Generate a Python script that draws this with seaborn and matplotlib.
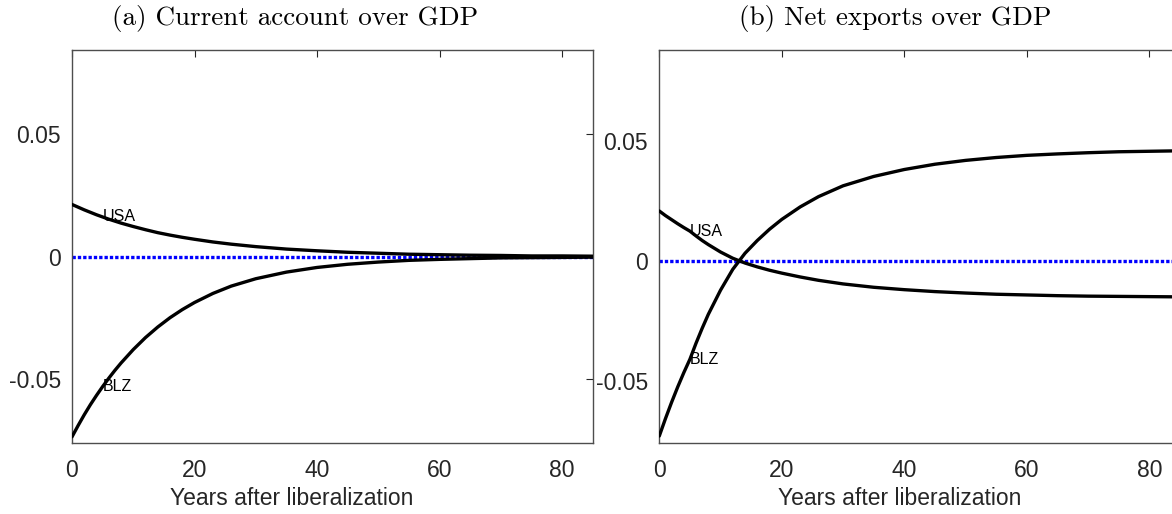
import matplotlib
matplotlib.use("Agg")
import matplotlib.pyplot as plt
import numpy as np
import pandas as pd
import seaborn as sns

# Years after capital-account liberalization
years = [0, 1, 2, 3, 4, 5, 6, 7, 8, 10, 12, 14, 16, 18, 20, 23, 26, 30,
         35, 40, 45, 50, 55, 60, 65, 70, 75, 80, 85]

# (a) Current account over GDP
ca_usa = [0.0213, 0.0202, 0.0191, 0.0181, 0.0171, 0.0162, 0.0153, 0.0145,
          0.0137, 0.0123, 0.0110, 0.0098, 0.0088, 0.0079, 0.0071, 0.0060,
          0.0051, 0.0041, 0.0031, 0.0024, 0.0018, 0.0014, 0.0010, 0.0008,
          0.0006, 0.0005, 0.0003, 0.0003, 0.0002]
ca_blz = [-0.0735, -0.0689, -0.0645, -0.0604, -0.0566, -0.0530, -0.0496,
          -0.0464, -0.0434, -0.0379, -0.0330, -0.0287, -0.0249, -0.0216,
          -0.0187, -0.0150, -0.0120, -0.0090, -0.0063, -0.0044, -0.0031,
          -0.0022, -0.0015, -0.0011, -0.0008, -0.0005, -0.0004, -0.0003,
          -0.0002]

# (b) Net exports over GDP
nx_usa = [0.0208, 0.0189, 0.0172, 0.0155, 0.0139, 0.0124, 0.0104, 0.0085,
          0.0068, 0.0037, 0.0011, -0.0009, -0.0025, -0.0039, -0.0051,
          -0.0067, -0.0081, -0.0096, -0.0110, -0.0120, -0.0128, -0.0134,
          -0.0139, -0.0142, -0.0145, -0.0147, -0.0148, -0.0149, -0.0150]
nx_blz = [-0.0730, -0.0658, -0.0590, -0.0526, -0.0466, -0.0410, -0.0343,
          -0.0281, -0.0223, -0.0122, -0.0035, 0.0032, 0.0085, 0.0132,
          0.0173, 0.0225, 0.0268, 0.0313, 0.0352, 0.0381, 0.0403, 0.0419,
          0.0431, 0.0440, 0.0446, 0.0451, 0.0455, 0.0457, 0.0459]

countries = ["USA", "BLZ"]
panel_titles = ["(a) Current account over GDP", "(b) Net exports over GDP"]
x_label = "Years after liberalization"
x_ticks = [0, 20, 40, 60, 80]
y_ticks = [-0.05, 0, 0.05]
y_tick_labels = ["-0.05", "0", "0.05"]

sns.set_theme(style="white")
plt.rcParams["font.family"] = ["Liberation Sans", "DejaVu Sans"]
plt.rcParams["axes.unicode_minus"] = False

ink = "#262626"
W, H = 1172, 514
fig = plt.figure(figsize=(W / 100, H / 100), dpi=100)

axes_px = [(72.0, 520.7), (659.3, 520.6)]
ylims = [(-0.0759, 0.0842), (-0.0758, 0.0878)]
label_centers = [0.4225, 0.462]
title_x = [295, 895]

panels = [(ca_usa, ca_blz), (nx_usa, nx_blz)]

for i, (usa, blz) in enumerate(panels):
    left, width = axes_px[i]
    ax = fig.add_axes([left / W, 71.3 / H, width / W, 392.4 / H])

    df = pd.DataFrame({
        "year": years * 2,
        "value": list(usa) + list(blz),
        "country": ["USA"] * len(years) + ["BLZ"] * len(years),
    })

    ax.axhline(0, color="#0000ff", lw=2.4, ls=(0, (1, 0.6)), zorder=1)
    sns.lineplot(data=df, x="year", y="value", hue="country",
                 palette={"USA": "black", "BLZ": "black"}, lw=2.4,
                 legend=False, ax=ax, zorder=3, estimator=None)

    # country tags sit on each curve five years in
    k = years.index(5)
    for name, series in zip(countries, (usa, blz)):
        ax.text(5, series[k], name, fontsize=11.5, color="black",
                ha="left", va="center", zorder=4)

    ax.set_xlim(0, 85)
    ax.set_ylim(*ylims[i])
    ax.set_xticks(x_ticks)
    ax.set_yticks(y_ticks)
    ax.set_yticklabels(y_tick_labels)
    ax.tick_params(direction="in", top=True, right=True, length=5,
                   width=0.8, color=ink, labelcolor=ink, labelsize=16.5)
    ax.tick_params(axis="x", pad=12)
    ax.tick_params(axis="y", pad=8)
    for sp in ax.spines.values():
        sp.set_color("#4d4d4d")
        sp.set_linewidth(1.0)

    ax.set_xlabel(x_label, fontsize=16.5, color=ink)
    ax.set_ylabel("")
    ax.xaxis.set_label_coords(label_centers[i], -0.112)

    fig.text(title_x[i] / W, 1 - 19 / H, panel_titles[i], family="cmr10",
             fontsize=19.5, ha="center", va="center", color="black")

fig.savefig("out.png", dpi=100)
